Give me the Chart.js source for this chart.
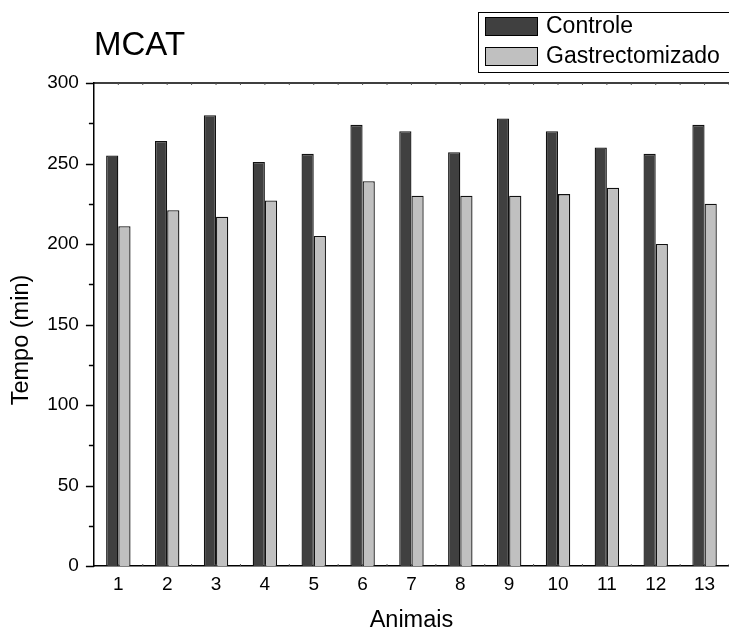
<!DOCTYPE html>
<html>
<head>
<meta charset="utf-8">
<script src="https://cdn.jsdelivr.net/npm/chart.js@4"></script>
<style>
  html, body { margin: 0; padding: 0; background: #fff; }
  #wrap { width: 729px; height: 632px; overflow: hidden; }
</style>
</head>
<body>
<div id="wrap"><canvas id="c" width="729" height="632"></canvas></div>
<script>
'use strict';

// ── Data ───────────────────────────────────────────────────────
const animais   = ['1','2','3','4','5','6','7','8','9','10','11','12','13'];
const controle  = [255, 264, 280, 251, 256, 274, 270, 257, 278, 270, 260, 256, 274];
const gastro    = [211, 221, 217, 227, 205, 239, 230, 230, 230, 231, 235, 200, 225];
const yTicks    = [0, 50, 100, 150, 200, 250, 300];

const FONT = 'Arial, "Liberation Sans", Helvetica, sans-serif';

// ── Axis frame: minor y ticks, top line, small inward x ticks ──
const framePlugin = {
  id: 'frame',
  afterDraw(chart) {
    const { ctx, chartArea: a, scales: { x, y } } = chart;
    ctx.save();
    ctx.strokeStyle = '#000';
    ctx.lineWidth = 1.5;
    ctx.beginPath();
    // top line
    ctx.moveTo(a.left, a.top); ctx.lineTo(a.right + 2, a.top);
    // y ticks: major outward 8px, minor outward 5px
    for (let v = 0; v <= 300; v += 25) {
      const py = Math.round(y.getPixelForValue(v)) + 0.5;
      const len = v % 50 === 0 ? 8 : 5;
      ctx.moveTo(a.left - len, py); ctx.lineTo(a.left, py);
    }
    ctx.stroke();
    // tiny inward ticks on top and bottom lines
    ctx.lineWidth = 1;
    ctx.strokeStyle = '#555';
    ctx.beginPath();
    const half = (x.getPixelForValue(1) - x.getPixelForValue(0)) / 2;
    for (let i = 0; i < animais.length; i++) {
      const cx = x.getPixelForValue(i);
      [cx, cx + half].forEach(px => {
        ctx.moveTo(px, a.top); ctx.lineTo(px, a.top + 2);
        ctx.moveTo(px, a.bottom); ctx.lineTo(px, a.bottom - 2);
      });
    }
    ctx.stroke();
    ctx.restore();
  }
};

// ── Title, y-axis title (sits a bit below centre) and framed legend ──
const headerPlugin = {
  id: 'header',
  afterDraw(chart) {
    const { ctx } = chart;
    ctx.save();
    ctx.fillStyle = '#000';
    ctx.font = '33px ' + FONT;
    ctx.textBaseline = 'alphabetic';
    ctx.textAlign = 'left';
    ctx.fillText('MCAT', 94, 55);

    // y-axis title
    ctx.save();
    ctx.translate(22, 340);
    ctx.rotate(-Math.PI / 2);
    ctx.font = '23.5px ' + FONT;
    ctx.textAlign = 'center';
    ctx.textBaseline = 'middle';
    ctx.fillText('Tempo (min)', 0, 0);
    ctx.restore();

    // legend frame
    ctx.lineWidth = 1;
    ctx.strokeStyle = '#000';
    ctx.strokeRect(478.5, 12.5, 260, 60);

    ctx.font = '23px ' + FONT;
    ctx.textBaseline = 'middle';
    chart.data.datasets.forEach((ds, i) => {
      const top = 17 + i * 30;
      ctx.fillStyle = ds.backgroundColor;
      ctx.fillRect(485.5, top + 0.5, 52, 18);
      ctx.strokeStyle = '#000';
      ctx.strokeRect(485.5, top + 0.5, 52, 18);
      ctx.fillStyle = '#000';
      ctx.fillText(ds.label, 546, top + 10);
    });
    ctx.restore();
  }
};

new Chart(document.getElementById('c'), {
  type: 'bar',
  data: {
    labels: animais,
    datasets: [
      { label: 'Controle', data: controle, backgroundColor: '#404040',
        borderColor: '#111', borderWidth: 1.3 },
      { label: 'Gastrectomizado', data: gastro, backgroundColor: '#c0c0c0',
        borderColor: '#111', borderWidth: 1.3 },
    ],
  },
  options: {
    responsive: false,
    animation: false,
    devicePixelRatio: 1,
    layout: { padding: { top: 83, right: 0, left: 32.2, bottom: 0 } },
    datasets: { bar: { categoryPercentage: 0.5, barPercentage: 1 } },
    plugins: {
      legend: { display: false },
      title: { display: false },
      tooltip: { enabled: false },
    },
    scales: {
      x: {
        offset: true,
        grid: { display: false, drawTicks: false },
        border: { display: true, color: '#000', width: 1.5 },
        ticks: { color: '#000', font: { family: FONT, size: 19 }, padding: 7 },
        // fit() reserves 2x tick padding; negative title padding gives it back
        title: { display: true, text: 'Animais', color: '#000',
                 font: { family: FONT, size: 23.5 }, padding: { top: 4, bottom: -3 } },
      },
      y: {
        min: 0, max: 300,
        afterBuildTicks: s => { s.ticks = yTicks.map(v => ({ value: v })); },
        grid: { display: false, drawTicks: false },
        border: { display: true, color: '#000', width: 1.5 },
        ticks: { color: '#000', font: { family: FONT, size: 19 }, padding: 15 },
        title: { display: false },
      },
    },
  },
  plugins: [framePlugin, headerPlugin],
});
</script>
</body>
</html>
